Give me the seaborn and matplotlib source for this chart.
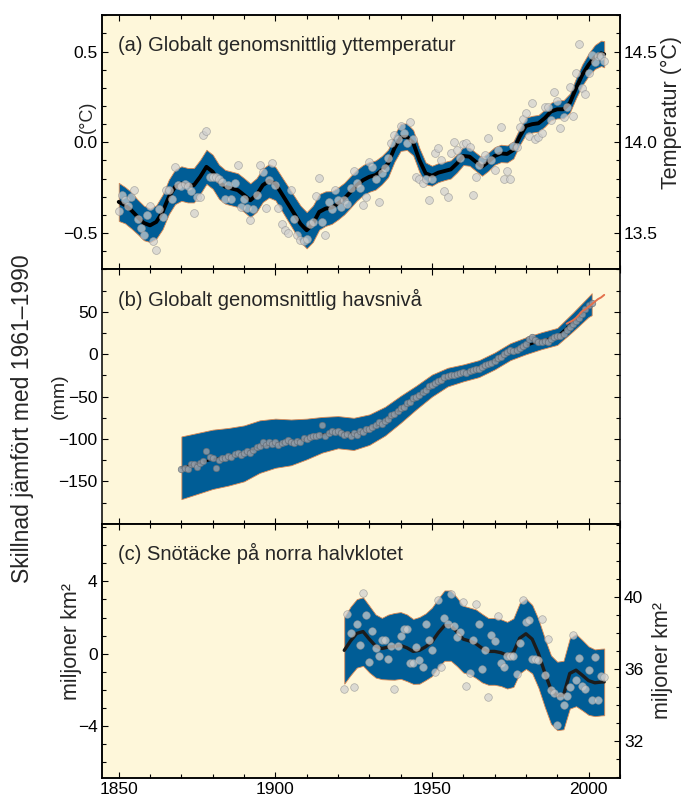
import numpy as np
import matplotlib
matplotlib.use("Agg")
import matplotlib.pyplot as plt
from matplotlib.ticker import MultipleLocator, FixedLocator
import seaborn as sns

# (a) global mean surface temperature, anomaly in degC (annual dots)
temp_years = np.arange(1850, 2006)
temp_annual = [
    -0.38, -0.29, -0.32, -0.35, -0.30, -0.26, -0.42, -0.47, -0.51, -0.40,
    -0.35, -0.545, -0.595, -0.365, -0.41, -0.26, -0.26, -0.31, -0.135, -0.236,
    -0.24, -0.23, -0.24, -0.27, -0.39, -0.30, -0.30, 0.04, 0.06, -0.19,
    -0.19, -0.19, -0.20, -0.22, -0.31, -0.236, -0.31, -0.223, -0.125, -0.355,
    -0.31, -0.36, -0.43, -0.365, -0.29, -0.125, -0.162, -0.36, -0.21, -0.116,
    -0.236, -0.36, -0.448, -0.48, -0.50, -0.26, -0.42, -0.51, -0.54, -0.544,
    -0.53, -0.45, -0.44, -0.297, -0.199, -0.44, -0.512, -0.33, -0.365, -0.26,
    -0.315, -0.355, -0.32, -0.34, -0.254, -0.157, -0.226, -0.25, -0.346, -0.30,
    -0.107, -0.134, -0.20, -0.328, -0.171, -0.14, -0.088, -0.005, 0.04, 0.02,
    0.09, 0.05, -0.005, 0.114, 0.02, -0.19, -0.204, -0.223, -0.20, -0.318,
    -0.20, -0.06, -0.03, -0.10, -0.267, -0.30, -0.06, 0.004, -0.04, -0.088,
    -0.009, -0.005, -0.024, -0.291, -0.19, -0.125, -0.098, -0.07, 0.022, -0.098,
    -0.153, -0.042, 0.087, -0.204, -0.16, -0.204, -0.02, -0.024, 0.083, 0.127,
    0.16, 0.035, 0.216, 0.017, 0.028, 0.05, 0.194, 0.194, 0.124, 0.276,
    0.225, 0.077, 0.14, 0.197, 0.304, 0.147, 0.381, 0.543, 0.298, 0.267,
    0.38, 0.483, 0.44, 0.473, 0.477, 0.45,
]
temp_smooth_years = list(range(1850, 2005, 2)) + [2005]
temp_smooth = [
    -0.328, -0.346, -0.374, -0.41, -0.444, -0.457, -0.438, -0.383, -0.30, -0.245,
    -0.227, -0.236, -0.236, -0.19, -0.135, -0.162, -0.217, -0.245, -0.254, -0.263,
    -0.29, -0.319, -0.29, -0.236, -0.212, -0.227, -0.282, -0.337, -0.392, -0.448,
    -0.484, -0.448, -0.383, -0.365, -0.359, -0.337, -0.31, -0.273, -0.236, -0.208,
    -0.19, -0.18, -0.153, -0.116, -0.033, 0.028, 0.031, -0.002, -0.098, -0.171,
    -0.184, -0.167, -0.158, -0.149, -0.116, -0.075, -0.079, -0.107, -0.134, -0.107,
    -0.075, -0.061, -0.064, -0.042, 0.031, 0.09, 0.10, 0.105, 0.133, 0.17,
    0.182, 0.182, 0.216, 0.298, 0.372, 0.427, 0.47, 0.49, 0.485,
]
temp_band = [
    0.105, 0.10, 0.10, 0.095, 0.095, 0.092, 0.092, 0.095, 0.095, 0.095,
    0.095, 0.095, 0.095, 0.094, 0.094, 0.094, 0.094, 0.093, 0.093, 0.093,
    0.093, 0.093, 0.093, 0.092, 0.092, 0.092, 0.093, 0.095, 0.097, 0.10,
    0.10, 0.10, 0.098, 0.095, 0.09, 0.088, 0.087, 0.087, 0.085, 0.083,
    0.082, 0.08, 0.078, 0.076, 0.075, 0.075, 0.073, 0.07, 0.066, 0.06,
    0.055, 0.052, 0.05, 0.05, 0.05, 0.05, 0.05, 0.05, 0.05, 0.05,
    0.048, 0.048, 0.047, 0.047, 0.046, 0.046, 0.046, 0.046, 0.047, 0.048,
    0.05, 0.05, 0.052, 0.055, 0.058, 0.062, 0.066, 0.07, 0.072,
]

# (b) global mean sea level, mm
sea_years = np.arange(1870, 2002)
sea_annual = [
    -135, -134, -136, -130, -129, -133, -128, -126, -114, -121,
    -123, -134, -125, -123, -122, -120, -121, -118, -116, -119,
    -117, -114, -116, -113, -110, -108, -104, -107, -103, -106,
    -104, -107, -105, -104, -101, -103, -105, -102, -104, -99,
    -100, -98, -96, -97, -95, -84, -96, -93, -90, -92,
    -91, -93, -95, -94, -96, -93, -95, -90, -92, -88,
    -88, -86, -84, -80, -82, -79, -76, -72, -70, -67,
    -64, -62, -58, -56, -52, -50, -48, -45, -42, -38,
    -36, -34, -32, -30, -27, -26, -25, -24, -23, -22,
    -21, -22, -20, -19, -18, -17, -15, -13, -12, -10,
    -8, -5, -3, 0, 3, 5, 4, 5, 7, 10,
    12, 18, 20, 17, 14, 15, 16, 14, 18, 20,
    22, 21, 24, 28, 32, 36, 39, 43, 48, 53,
    58, 60,
]
sea_smooth_years = list(range(1870, 2001, 5)) + [2001]
sea_smooth = [-134, -129, -124, -121, -117, -109, -105, -104, -100, -95,
              -92, -94, -89, -79, -65, -51, -37, -27, -22, -17,
              -8, 3, 10, 16, 21, 38, 56, 59]
sea_band = [37, 36, 35, 34, 33, 31, 29, 27, 24, 21,
            19, 19, 18, 17, 16, 14, 13, 11, 10, 10,
            10, 10, 10, 10, 10, 11, 12, 13]
sat_years = list(range(1993, 2006))
sat_values = [36, 38, 40, 43, 47, 51, 53, 56, 59, 62, 65, 67, 70]

# (c) northern hemisphere snow cover, million km2
snow_years = np.arange(1922, 2006)
snow_annual = [
    -1.94, 2.2, 1.14, -1.84, 1.62, 0.5, 3.35, 2.15,
    -0.46, 1.23, 0.33, -0.15, 0.77, 0.77, -0.3, 0.4, -1.94, 0.4,
    0.99, 1.38, 1.38, -0.55, -0.55, 0.37, -0.33, -0.74, 1.62, 0.74,
    0.18, -1.02, 2.95, -0.74, 2.0, 1.62, 3.28, 1.51, 0.92, 1.2,
    2.85, -1.81, -1.07, 0.74, 2.76, 1.62, -0.83, 0.18, -2.4, 1.01,
    0.7, 2.06, -0.55, -0.74, -0.15, -0.15, -0.15, -1.11, 0.59, 2.95,
    1.75, 1.88, -0.28, -0.28, -0.37, 1.93, -1.2, 0.83, -2.03, -2.21,
    -3.96, -2.36, -2.86, -2.36, -1.88, 1.01, -1.48, -0.22, -1.81, -1.94,
    -0.9, -2.55, -0.18, -2.55, -1.25, -1.3,
]
snow_smooth_years = list(range(1922, 2005, 2)) + [2005]
snow_smooth = [
    0.18, 0.70, 1.12, 1.22, 0.80, 0.42, 0.28, 0.36, 0.40, 0.45,
    0.32, 0.12, 0.18, 0.38, 0.65, 1.15, 1.55, 1.55, 1.20, 0.80,
    0.70, 0.55, 0.30, 0.12, 0.12, 0.05, -0.09, 0.05, 0.85, 1.10,
    0.80, 0.00, -1.05, -2.0, -2.35, -2.30, -1.10, -0.92, -1.20, -1.50,
    -1.62, -1.58, -1.57,
]
snow_band = [
    1.85, 1.9, 1.9, 1.9, 1.85, 1.75, 1.7, 1.8, 1.85, 1.85,
    1.85, 1.8, 1.85, 1.85, 1.9, 1.9, 1.95, 1.95, 1.9, 1.85,
    1.85, 1.9, 1.9, 1.85, 1.85, 1.85, 1.85, 1.9, 1.95, 1.95,
    1.9, 1.9, 1.9, 1.9, 1.9, 1.9, 1.95, 2.0, 1.95, 1.9,
    1.85, 1.85, 1.85,
]

BG = "#fef7da"
BAND = "#005d96"
EDGE = "#dc8a55"
TICK_SIZE = 12.5

sns.set_theme(style="ticks")
plt.rcParams["font.family"] = ["Liberation Sans", "DejaVu Sans"]
plt.rcParams["axes.unicode_minus"] = True


def set_ticks(ax, axis, majors, minor):
    a = ax.yaxis if axis == "y" else ax.xaxis
    a.set_major_locator(FixedLocator(majors))
    a.set_minor_locator(MultipleLocator(minor))


def style_axis(ax, right=True):
    ax.set_facecolor(BG)
    set_ticks(ax, "x", [1850, 1900, 1950, 2000], 10)
    ax.tick_params(which="both", direction="in", top=True, bottom=True,
                   left=True, right=right, width=0.8, color="black",
                   labelsize=TICK_SIZE, labelcolor="black", pad=3)
    ax.tick_params(which="major", length=4.5)
    ax.tick_params(which="minor", length=2.7)
    for s in ax.spines.values():
        s.set_linewidth(1.1)
        s.set_color("black")


def style_twin(ax, lim, offset):
    ax.set_ylim(lim[0] + offset, lim[1] + offset)
    ax.tick_params(which="both", direction="in", width=0.8, color="black",
                   labelsize=TICK_SIZE, labelcolor="black", pad=3)
    ax.tick_params(which="major", length=4.5)
    ax.tick_params(which="minor", length=2.7)
    for s in ax.spines.values():
        s.set_linewidth(1.1)
        s.set_color("black")


def band(ax, years, center, half):
    c = np.array(center)
    h = np.array(half)
    ax.fill_between(years, c - h, c + h, color=BAND, edgecolor=EDGE,
                    linewidth=0.6, zorder=2)


fig, axes = plt.subplots(3, 1, figsize=(6.88, 8), dpi=100, sharex=True)
fig.subplots_adjust(left=0.148, right=0.901, top=0.981, bottom=0.0275, hspace=0)
ax_a, ax_b, ax_c = axes

# panel a
band(ax_a, temp_smooth_years, temp_smooth, temp_band)
sns.lineplot(x=temp_smooth_years, y=temp_smooth, ax=ax_a, color="black",
             linewidth=2.8, zorder=3)
sns.scatterplot(x=temp_years, y=temp_annual, ax=ax_a, s=32, color="#cfcfcf",
                edgecolor="#949494", linewidth=0.5, alpha=0.72, zorder=4)
lim_a = (-0.7, 0.7)
ax_a.set_ylim(*lim_a)
style_axis(ax_a, right=False)
set_ticks(ax_a, "y", [-0.5, 0.0, 0.5], 0.1)
ax_a.set_ylabel("(°C)", fontsize=13)
ax_a.yaxis.set_label_coords(-0.012, 0.6)
tw_a = ax_a.twinx()
style_twin(tw_a, lim_a, 14.0)
set_ticks(tw_a, "y", [13.5, 14.0, 14.5], 0.1)
tw_a.set_ylabel("Temperatur (°C)", fontsize=15.5)
tw_a.yaxis.set_label_coords(1.08, 0.618)
ax_a.text(0.031, 0.858, "(a) Globalt genomsnittlig yttemperatur",
          transform=ax_a.transAxes, fontsize=14.5, va="baseline")

# panel b
band(ax_b, sea_smooth_years, sea_smooth, sea_band)
sns.lineplot(x=sea_smooth_years, y=sea_smooth, ax=ax_b, color="black",
             linewidth=1.6, zorder=3)
sns.scatterplot(x=sea_years, y=sea_annual, ax=ax_b, s=22, color="#939ca6",
                edgecolor="#626b75", linewidth=0.5, alpha=0.85, zorder=4)
sns.lineplot(x=sat_years, y=sat_values, ax=ax_b, color="#e3704c",
             linewidth=1.4, zorder=5)
ax_b.set_ylim(-200, 100)
style_axis(ax_b, right=True)
set_ticks(ax_b, "y", [-150, -100, -50, 0, 50], 25)
ax_b.tick_params(labelright=False)
ax_b.set_ylabel("(mm)", fontsize=14)
ax_b.yaxis.set_label_coords(-0.066, 0.5)
ax_b.text(0.031, 0.858, "(b) Globalt genomsnittlig havsnivå",
          transform=ax_b.transAxes, fontsize=14.5, va="baseline")

# panel c
band(ax_c, snow_smooth_years, snow_smooth, snow_band)
sns.lineplot(x=snow_smooth_years, y=snow_smooth, ax=ax_c, color="#1c1c1c",
             linewidth=2.4, zorder=3)
sns.scatterplot(x=snow_years, y=snow_annual, ax=ax_c, s=30, color="#cfcfcf",
                edgecolor="#949494", linewidth=0.5, alpha=0.72, zorder=4)
lim_c = (-6.9, 7.2)
ax_c.set_ylim(*lim_c)
style_axis(ax_c, right=False)
set_ticks(ax_c, "y", [-4, 0, 4], 1)
ax_c.set_ylabel("miljoner km²", fontsize=15.5)
ax_c.yaxis.set_label_coords(-0.039, 0.537)
tw_c = ax_c.twinx()
style_twin(tw_c, lim_c, 36.86)
set_ticks(tw_c, "y", [32, 36, 40], 1)
tw_c.set_ylabel("miljoner km²", fontsize=15.5)
tw_c.yaxis.set_label_coords(1.062, 0.463)
ax_c.text(0.031, 0.858, "(c) Snötäcke på norra halvklotet",
          transform=ax_c.transAxes, fontsize=14.5, va="baseline")

ax_c.set_xlim(1844.6, 2010)
for ax in axes:
    ax.set_xlabel("")
ax_a.tick_params(labelbottom=False)
ax_b.tick_params(labelbottom=False)

fig.text(0.032, 0.477, "Skillnad jämfört med 1961–1990", rotation=90,
         ha="center", va="center", fontsize=16.5)

fig.savefig("out.png", dpi=100, facecolor="white")
